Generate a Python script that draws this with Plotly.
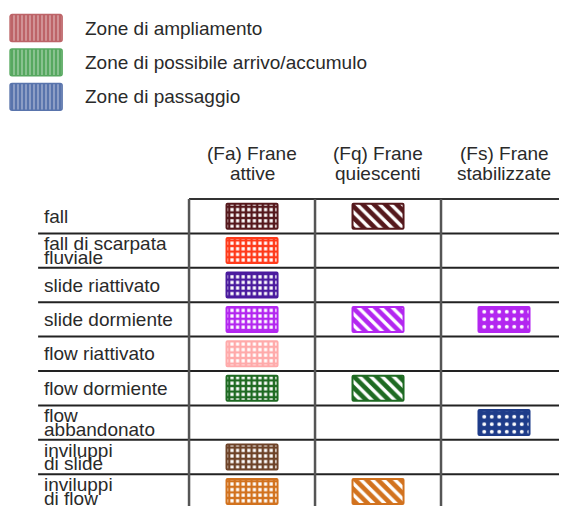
import plotly.graph_objects as go

# ---- data ----
zone_labels = ["Zone di ampliamento", "Zone di possibile arrivo/accumulo", "Zone di passaggio"]
zone_colors = ["#b24a4e", "#3a9a45", "#3d5c9e"]

column_headers = [["(Fa) Frane", "attive"], ["(Fq) Frane", "quiescenti"], ["(Fs) Frane", "stabilizzate"]]
column_patterns = ["+", "\\", "."]

row_labels = [["fall"], ["fall di scarpata", "fluviale"], ["slide riattivato"], ["slide dormiente"],
              ["flow riattivato"], ["flow dormiente"], ["flow", "abbandonato"],
              ["inviluppi", "di slide"], ["inviluppi", "di flow"]]
row_colors = ["#55181c", "#ff3a1a", "#4a1a9e", "#b326f0", "#ffaaaa", "#1e6a22",
              "#1e3c8a", "#6e4328", "#d2721e"]
# which columns (Fa, Fq, Fs) carry a symbol for each row
row_presence = [[1, 1, 0], [1, 0, 0], [1, 0, 0], [1, 1, 1], [1, 0, 0], [1, 1, 0],
                [0, 0, 1], [1, 0, 0], [1, 1, 0]]

FONT = "Liberation Sans, Arial, sans-serif"
TXT = "#2a2a2a"
FS = 19

fig = go.Figure()

# top legend swatches (vertical stripes)
leg_x = -1.714
leg_y0 = -5.47
for k, (lab, col) in enumerate(zip(zone_labels, zone_colors)):
    yc = leg_y0 + k * 1.0
    fig.add_trace(go.Bar(
        x=[leg_x], y=[0.78], base=[yc - 0.39], width=[0.413],
        marker=dict(color=col, line=dict(color=col, width=1.5), cornerradius=2,
                    pattern=dict(shape="|", fgcolor="white", bgcolor=col, size=4, solidity=0.3)),
        opacity=0.85, hoverinfo="skip", showlegend=False))
    fig.add_annotation(x=-1.341, y=yc, text=lab, xanchor="left", yanchor="middle",
                       showarrow=False, font=dict(family=FONT, size=FS, color=TXT))

# table swatches
for j, (pres, col) in enumerate(zip(row_presence, row_colors)):
    for i, p in enumerate(pres):
        if not p:
            continue
        shape = column_patterns[i]
        if shape == ".":
            pat = dict(shape=".", fgcolor="white", bgcolor=col, size=7.5, solidity=0.22, fgopacity=1)
        elif shape == "+":
            pat = dict(shape="+", fgcolor=col, bgcolor="white", size=5.6, solidity=0.68, fgopacity=1)
        else:
            pat = dict(shape="\\", fgcolor=col, bgcolor="white", size=8, solidity=0.58, fgopacity=1)
        fig.add_trace(go.Bar(
            x=[i], y=[0.727], base=[j - 0.3635], width=[0.405],
            marker=dict(color=col, line=dict(color=col, width=2), cornerradius=1, pattern=pat),
            hoverinfo="skip", showlegend=False))

# column headers
for i, (l1, l2) in enumerate(column_headers):
    fig.add_annotation(x=i, y=-1.83, text=l1, showarrow=False, xanchor="center", yanchor="middle",
                       font=dict(family=FONT, size=FS, color=TXT))
    fig.add_annotation(x=i, y=-1.24, text=l2, showarrow=False, xanchor="center", yanchor="middle",
                       font=dict(family=FONT, size=FS, color=TXT))

# row labels
for j, lines in enumerate(row_labels):
    if len(lines) == 1:
        offs = [0.0]
    else:
        offs = [-0.2, 0.2]
    for line, o in zip(lines, offs):
        fig.add_annotation(x=-1.667, y=j + o, text=line, showarrow=False, xanchor="left",
                           yanchor="middle", font=dict(family=FONT, size=FS, color=TXT))

# table grid lines
n_rows = len(row_labels)
n_cols = len(column_headers)
shapes = []
shapes.append(dict(type="line", x0=-0.5, x1=n_cols - 0.5, y0=-0.5, y1=-0.5,
                   line=dict(color="#333333", width=2)))
for j in range(1, n_rows):
    shapes.append(dict(type="line", x0=-1.698, x1=n_cols - 0.5, y0=j - 0.5, y1=j - 0.5,
                       line=dict(color="#222222", width=2)))
for i in range(n_cols):
    shapes.append(dict(type="line", x0=i - 0.5, x1=i - 0.5, y0=-0.5, y1=n_rows,
                       line=dict(color="#555555", width=2.5)))
fig.update_layout(shapes=shapes)

# page body has an 8px margin: figure sized to end exactly at the window edge
fig.update_layout(
    width=559, height=498, margin=dict(l=0, r=0, t=0, b=0),
    paper_bgcolor="white", plot_bgcolor="white", barmode="overlay",
    xaxis=dict(range=[-1.937, 2.5], visible=False, fixedrange=True),
    yaxis=dict(range=[8.424, -6.052], visible=False, fixedrange=True),
    showlegend=False,
)

fig.write_html("out.html")
